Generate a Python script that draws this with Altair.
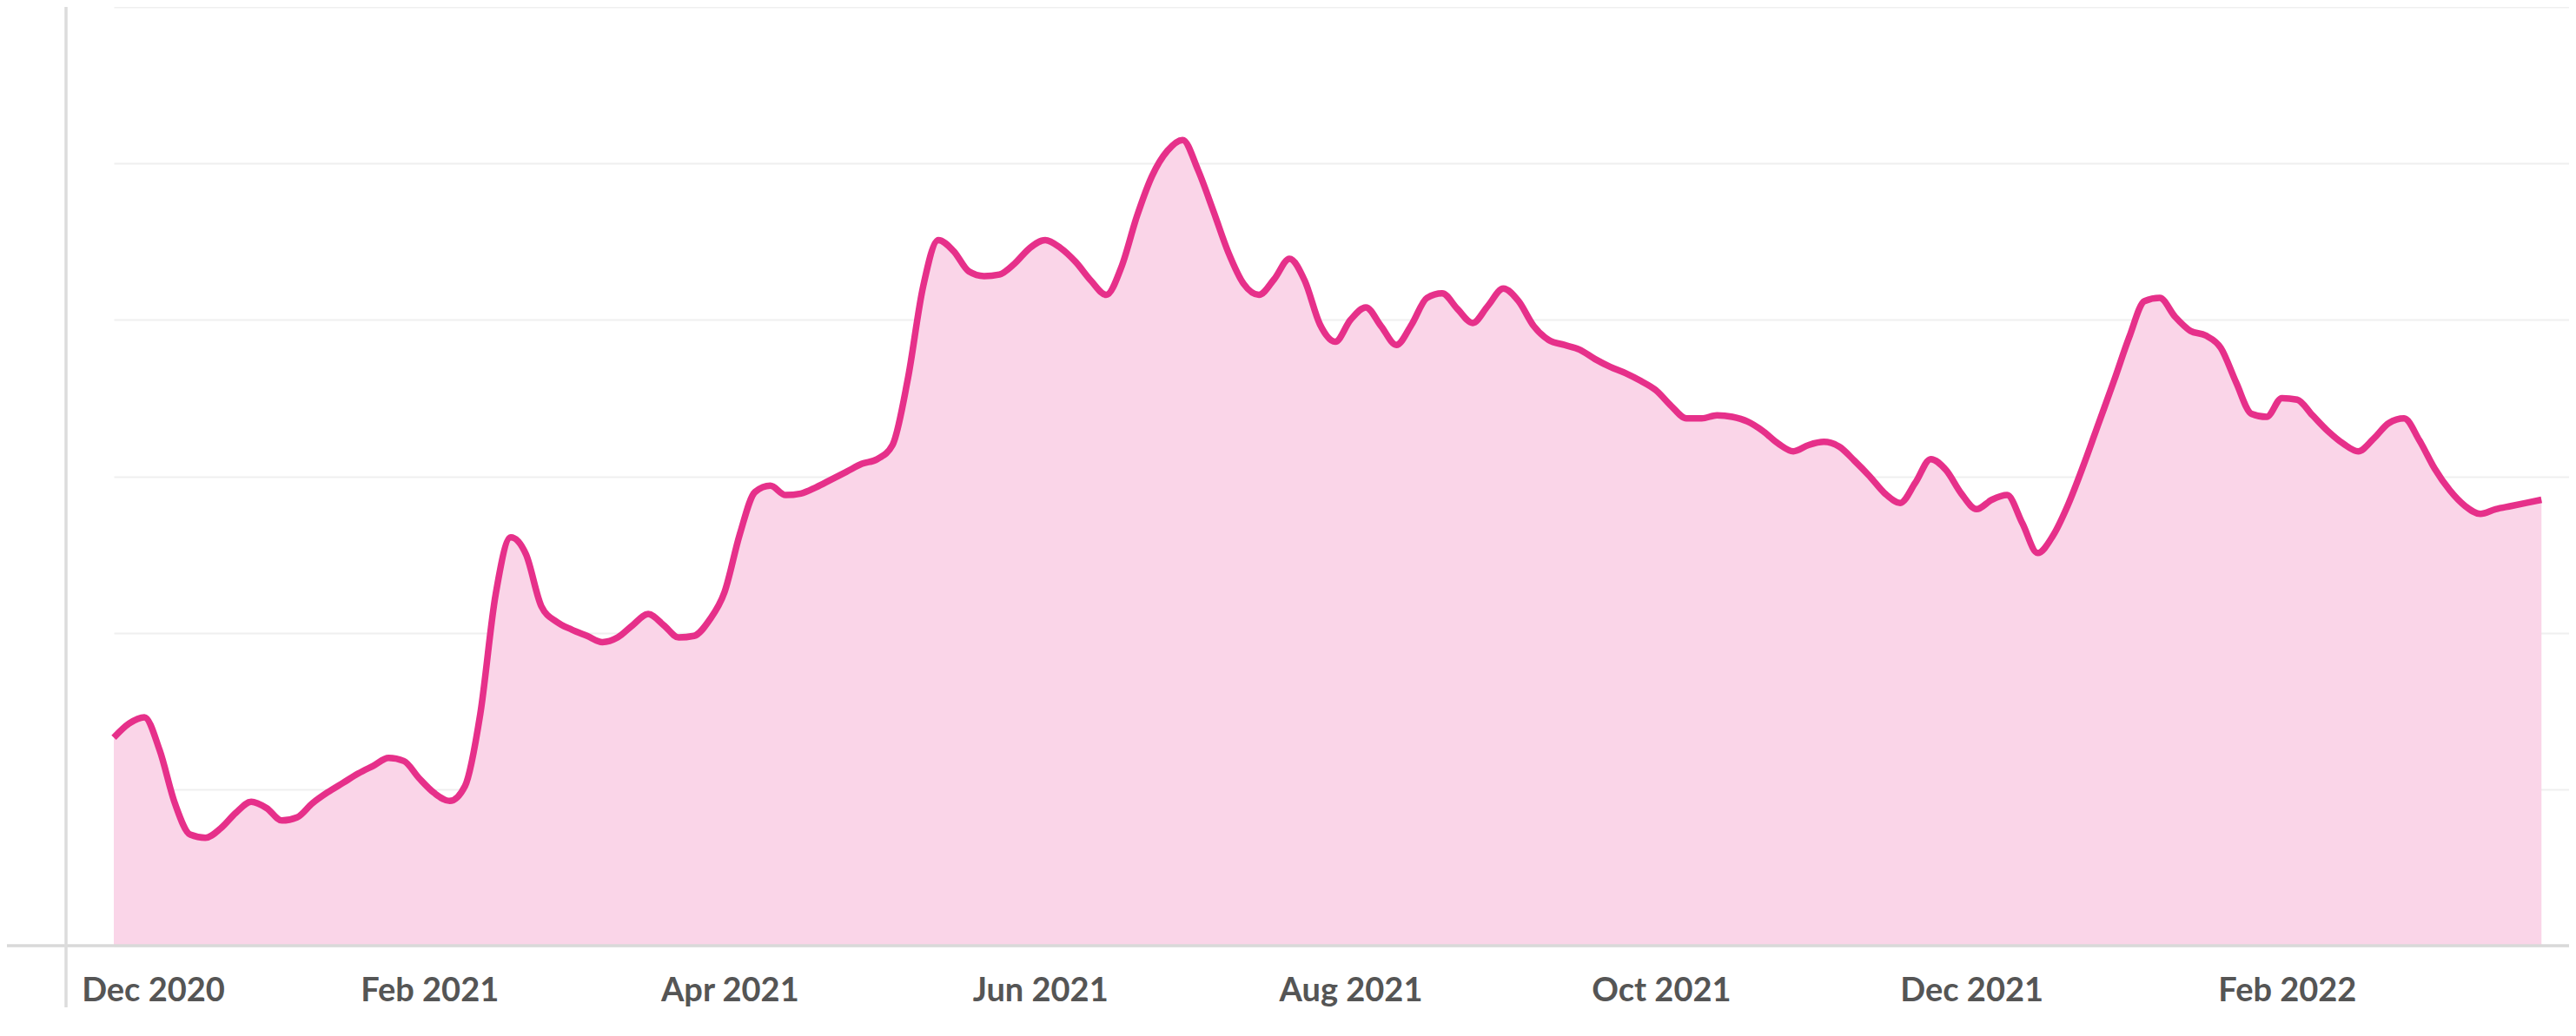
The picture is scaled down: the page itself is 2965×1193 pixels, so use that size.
import altair as alt
import pandas as pd

# Series: one value every 3 days from 2020-12-01
START = "2020-12-01"
STEP_DAYS = 3
values = [
    13.3, 14.2, 14.6, 12.5, 9.1, 7.1, 6.9, 7.5, 8.5, 9.2,
    8.8, 8.0, 8.2, 9.1, 9.8, 10.4, 11.0, 11.5, 12.0, 11.8,
    10.7, 9.75, 9.25, 10.2, 14.8, 22.4, 26.1, 25.0, 21.7, 20.7,
    20.2, 19.8, 19.4, 19.7, 20.5, 21.2, 20.5, 19.7, 19.8, 20.8,
    22.6, 26.3, 29.0, 29.4, 28.8, 28.9, 29.3, 29.8, 30.3, 30.8,
    31.1, 32.0, 36.2, 42.1, 45.1, 44.4, 43.1, 42.8, 42.9, 43.6,
    44.6, 45.1, 44.6, 43.7, 42.5, 41.6, 43.4, 46.6, 49.2, 50.8,
    51.5, 49.6, 47.0, 44.3, 42.3, 41.6, 42.6, 43.9, 42.5, 39.7,
    38.6, 40.0, 40.8, 39.6, 38.4, 39.7, 41.4, 41.7, 40.7, 39.8,
    40.9, 42.0, 41.2, 39.6, 38.7, 38.4, 38.1, 37.5, 37.0, 36.6,
    36.1, 35.5, 34.5, 33.7, 33.7, 33.9, 33.8, 33.5, 32.9, 32.1,
    31.6, 32.0, 32.2, 31.9, 31.0, 30.0, 28.9, 28.3, 29.6, 31.1,
    30.4, 28.9, 27.9, 28.5, 28.8, 27.0, 25.1, 26.2, 28.2, 30.7,
    33.4, 36.1, 38.9, 41.2, 41.4, 40.2, 39.3, 39.0, 38.2, 36.0,
    34.0, 33.8, 35.0, 34.9, 33.9, 32.9, 32.1, 31.6, 32.4, 33.4,
    33.7, 32.3, 30.5, 29.1, 28.1, 27.6, 27.9, 28.1, 28.3, 28.5,
]
dates = [d.strftime("%Y-%m-%d")
         for d in pd.date_range(START, periods=len(values), freq=f"{STEP_DAYS}D")]

# Axis ticks (year, month)
tick_months = [(2020, 12), (2021, 2), (2021, 4), (2021, 6), (2021, 8),
               (2021, 10), (2021, 12), (2022, 2)]
grid_values = [0, 10, 20, 30, 40, 50, 60]

LINE = "#e6308a"
FILL = "#fad5e8"
W, H = 2826, 1081

df = pd.DataFrame({"date": dates, "value": values})
one = pd.DataFrame({"a": [0]})

x_scale = alt.Scale(
    type="utc",
    domain=[alt.DateTime(year=2020, month=12, date=1, utc=True),
            alt.DateTime(year=2022, month=3, date=28, hours=10, utc=True)],
)
x_axis = alt.Axis(
    values=[alt.DateTime(year=y, month=m, date=1, utc=True) for y, m in tick_months],
    format="%b %Y",
    labelFont="Lato",
    labelFontSize=38,
    labelFontWeight="bold",
    labelColor="#555555",
    labelPadding=33,
    labelFlush=False,
    labelOverlap=False,
    labelOffset={"condition": {"test": "datum.value < 1609459200000", "value": 45}, "value": 0},
    ticks=False,
    domain=False,
    grid=False,
    title=None,
)
y_scale = alt.Scale(domain=[0, 60], nice=False, zero=True)
y_axis = alt.Axis(
    values=grid_values,
    labels=False,
    ticks=False,
    domain=False,
    grid=True,
    gridColor="#efefef",
    gridWidth=2,
    title=None,
)

base = alt.Chart(df).encode(
    x=alt.X("date:T", scale=x_scale, axis=x_axis),
    y=alt.Y("value:Q", scale=y_scale, axis=y_axis),
)
area = base.mark_area(interpolate="monotone", color=FILL)
line = base.mark_line(interpolate="monotone", color=LINE, strokeWidth=7.5)

baseline = alt.Chart(one).mark_rule(color="#d9d9d9", strokeWidth=3.5).encode(
    x=alt.value(-123), x2=alt.value(W), y=alt.value(H)
)
yline = alt.Chart(one).mark_rule(color="#dcdcdc", strokeWidth=3.5).encode(
    x=alt.value(-55), y=alt.value(0), y2=alt.value(1152)
)

chart = alt.layer(area, line, baseline, yline).properties(
    width=W,
    height=H,
    padding={"left": 123, "top": 0, "right": 0, "bottom": 90},
    autosize=alt.AutoSizeParams(type="none"),
    background="white",
).configure_view(stroke=None)

chart.save("out.html", embed_options={"renderer": "svg", "actions": False})
